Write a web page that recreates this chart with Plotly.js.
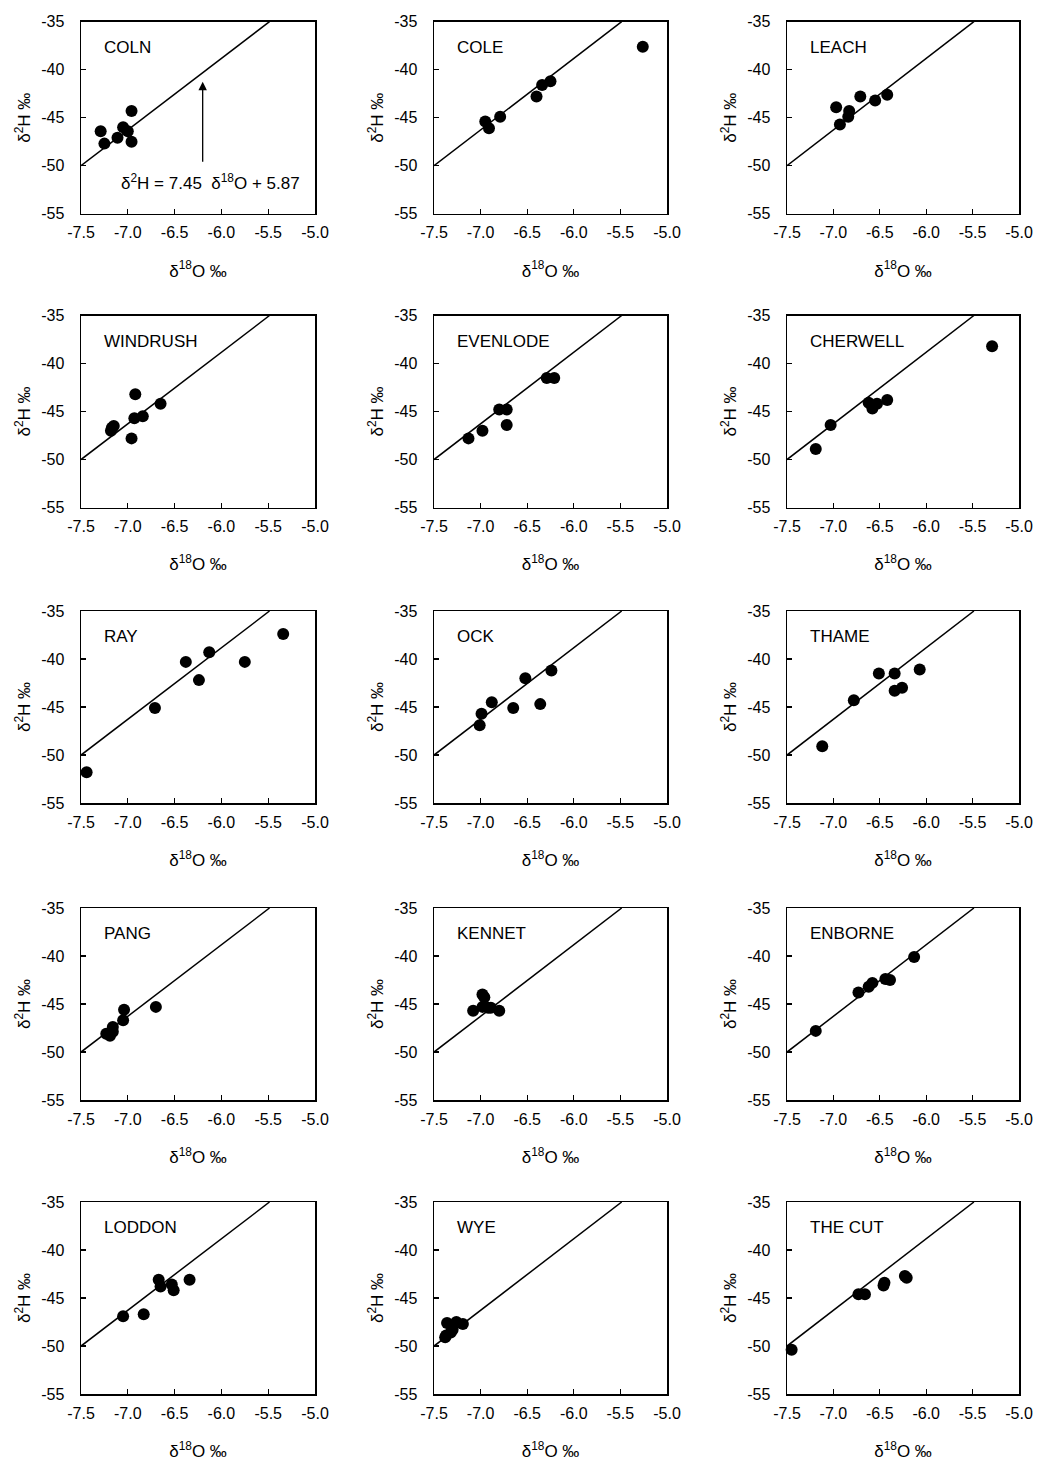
<!DOCTYPE html>
<html><head><meta charset="utf-8">
<script src="https://cdn.plot.ly/plotly-3.0.1.min.js"></script>
<style>html,body{margin:0;padding:0;background:#fff}#chart{width:1042px;height:1466px}</style>
</head><body><div id="chart"></div>
<script>
// ---- data (δ18O, δ2H in ‰) ----
const siteNames = ['COLN','COLE','LEACH','WINDRUSH','EVENLODE','CHERWELL','RAY','OCK','THAME','PANG','KENNET','ENBORNE','LODDON','WYE','THE CUT'];

const colnO = [-7.29, -7.25, -7.11, -7.05, -7.00, -6.96, -6.96];
const colnH = [-46.4, -47.7, -47.1, -46.0, -46.4, -44.3, -47.5];

const coleO = [-5.26, -6.25, -6.34, -6.40, -6.79, -6.95, -6.91];
const coleH = [-37.6, -41.2, -41.6, -42.8, -44.9, -45.4, -46.1];

const leachO = [-6.97, -6.93, -6.84, -6.83, -6.71, -6.55, -6.42];
const leachH = [-43.9, -45.7, -44.9, -44.3, -42.8, -43.2, -42.6];

const windrushO = [-7.17, -7.15, -7.18, -6.96, -6.92, -6.93, -6.84, -6.65];
const windrushH = [-46.7, -46.5, -47.0, -47.8, -43.2, -45.7, -45.5, -44.2];

const evenlodeO = [-7.13, -6.98, -6.80, -6.72, -6.72, -6.29, -6.21];
const evenlodeH = [-47.8, -47.0, -44.8, -44.8, -46.4, -41.5, -41.5];

const cherwellO = [-7.19, -7.03, -6.62, -6.58, -6.53, -6.42, -5.29];
const cherwellH = [-48.9, -46.4, -44.1, -44.7, -44.2, -43.8, -38.2];

const rayO = [-7.44, -6.71, -6.38, -6.24, -6.13, -5.75, -5.34];
const rayH = [-51.8, -45.1, -40.3, -42.2, -39.3, -40.3, -37.4];

const ockO = [-7.01, -6.99, -6.88, -6.65, -6.52, -6.36, -6.24];
const ockH = [-46.9, -45.7, -44.5, -45.1, -42.0, -44.7, -41.2];

const thameO = [-7.12, -6.78, -6.51, -6.34, -6.34, -6.26, -6.07];
const thameH = [-49.1, -44.3, -41.5, -41.5, -43.3, -43.0, -41.1];

const pangO = [-7.23, -7.19, -7.16, -7.16, -7.05, -7.04, -6.70];
const pangH = [-48.1, -48.3, -47.9, -47.4, -46.7, -45.6, -45.3];

const kennetO = [-7.08, -6.98, -6.96, -6.98, -6.92, -6.89, -6.80];
const kennetH = [-45.7, -44.0, -44.3, -45.3, -45.4, -45.4, -45.7];

const enborneO = [-7.19, -6.73, -6.62, -6.58, -6.44, -6.39, -6.13];
const enborneH = [-47.8, -43.8, -43.2, -42.8, -42.4, -42.5, -40.1];

const loddonO = [-6.67, -6.65, -6.53, -6.51, -6.34, -7.05, -6.83];
const loddonH = [-43.1, -43.8, -43.6, -44.2, -43.1, -46.9, -46.7];

const wyeO = [-7.36, -7.26, -7.19, -7.30, -7.32, -7.37, -7.38];
const wyeH = [-47.6, -47.5, -47.7, -48.3, -48.6, -48.9, -49.1];

const thecutO = [-7.45, -6.73, -6.66, -6.46, -6.45, -6.23, -6.21];
const thecutH = [-50.4, -44.6, -44.6, -43.7, -43.4, -42.7, -42.9];

const allO = [colnO, coleO, leachO, windrushO, evenlodeO, cherwellO, rayO, ockO, thameO, pangO, kennetO, enborneO, loddonO, wyeO, thecutO];
const allH = [colnH, coleH, leachH, windrushH, evenlodeH, cherwellH, rayH, ockH, thameH, pangH, kennetH, enborneH, loddonH, wyeH, thecutH];

// meteoric water line shown in the chart
const lineSlope = 7.45, lineIntercept = 5.87;
const xRange = [-7.5, -5.0], yRange = [-55, -35];
const xTickVals = [-7.5, -7.0, -6.5, -6.0, -5.5, -5.0];
const xTickText = ['-7.5', '-7.0', '-6.5', '-6.0', '-5.5', '-5.0'];
const yTickVals = [-55, -50, -45, -40, -35];
const yTickText = ['-55', '-50', '-45', '-40', '-35'];
const equationText = 'δ<sup>2</sup>H = 7.45  δ<sup>18</sup>O + 5.87';

// ---- layout geometry ----
const W = 1042, H = 1466;
const colLeft = [81, 434, 787], colRight = [315, 667, 1019];
const rowTop = [21.7, 315.5, 611, 908, 1202], plotH = 192;
const FONT = 'Liberation Sans, Arial, sans-serif';

const traces = [];
const layout = {
  width: W, height: H, margin: {l: 0, r: 0, t: 0, b: 0},
  paper_bgcolor: '#fff', plot_bgcolor: '#fff', showlegend: false,
  font: {family: FONT, color: '#000', size: 15},
  annotations: []
};

const lineX1 = (yRange[1] - lineIntercept) / lineSlope;
const lineX = [xRange[0], lineX1];
const lineY = lineX.map(v => lineSlope * v + lineIntercept);

for (let i = 0; i < siteNames.length; i++) {
  const r = Math.floor(i / 3), c = i % 3;
  const n = i === 0 ? '' : String(i + 1);
  const xa = 'x' + n, ya = 'y' + n;
  traces.push({x: lineX, y: lineY, xaxis: xa, yaxis: ya, mode: 'lines',
    line: {color: '#000', width: 1.5}, hoverinfo: 'skip'});
  traces.push({x: allO[i], y: allH[i], xaxis: xa, yaxis: ya, mode: 'markers',
    marker: {color: '#000', size: 12}, cliponaxis: false});
  const common = {showline: true, mirror: true, linecolor: '#000', linewidth: 1.5,
    ticks: 'inside', ticklen: 5, tickwidth: 1.2, tickcolor: '#000',
    showgrid: false, zeroline: false, fixedrange: true,
    tickfont: {family: FONT, size: 16, color: '#000'}};
  layout['xaxis' + n] = Object.assign({}, common, {
    domain: [colLeft[c] / W, colRight[c] / W], anchor: ya,
    range: xRange, tickmode: 'array', tickvals: xTickVals, ticktext: xTickText,
    ticklabelstandoff: 4,
    title: {text: 'δ<sup>18</sup>O ‰', font: {family: FONT, size: 17, color: '#000'}, standoff: 24}
  });
  layout['yaxis' + n] = Object.assign({}, common, {
    domain: [1 - (rowTop[r] + plotH) / H, 1 - rowTop[r] / H], anchor: xa,
    range: yRange, tickmode: 'array', tickvals: yTickVals, ticktext: yTickText,
    ticklabelstandoff: 12,
    title: {text: 'δ<sup>2</sup>H ‰', font: {family: FONT, size: 17, color: '#000'}, standoff: 6}
  });
  layout.annotations.push({xref: xa + ' domain', yref: ya + ' domain', x: 0.09, y: 0.866,
    xanchor: 'left', yanchor: 'middle', text: siteNames[i], showarrow: false,
    font: {family: FONT, size: 17, color: '#000'}});
}

// equation and arrow in first panel
layout.annotations.push({xref: 'x', yref: 'y', x: -7.09, y: -51.67, xanchor: 'left', yanchor: 'middle',
  text: equationText, showarrow: false, font: {family: FONT, size: 17, color: '#000'}});
layout.annotations.push({xref: 'x', yref: 'y', x: -6.2, y: -41.25, axref: 'x', ayref: 'y',
  ax: -6.2, ay: -49.75, text: '', showarrow: true, arrowhead: 2, arrowsize: 1.3,
  arrowwidth: 1.3, arrowcolor: '#000'});

Plotly.newPlot('chart', traces, layout, {displayModeBar: false, staticPlot: true});
</script>
</body></html>
